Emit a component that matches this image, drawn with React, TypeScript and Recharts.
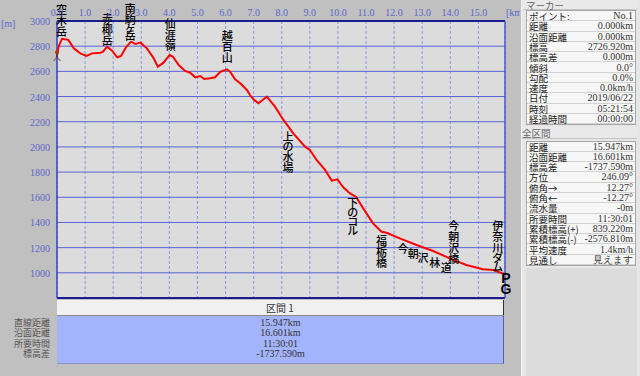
import { LineChart, Line, XAxis, YAxis, CartesianGrid, ReferenceLine, ReferenceDot } from "recharts";

// elevation profile (km along track, metres)
const distKm = [
  0, 0.06, 0.18, 0.4, 0.6, 0.83, 1.05, 1.25, 1.55, 1.64, 1.78, 1.96, 2.14, 2.28, 2.47, 2.64, 2.79, 2.97,
  3.2, 3.44, 3.59, 3.79, 4.01, 4.13, 4.33, 4.56, 4.74, 4.92, 5.1, 5.24, 5.45, 5.63, 5.81, 6.05, 6.16,
  6.34, 6.52, 6.76, 6.87, 6.99, 7.17, 7.47, 7.76, 8.06, 8.41, 8.83, 9.0, 9.24, 9.54, 9.78, 9.98, 10.19,
  10.43, 10.64, 10.9, 11.25, 11.55, 11.73, 12.2, 12.8, 13.39, 13.98, 14.57, 15.16, 15.52, 15.947,
];
const elevM = [
  2727, 2800, 2858, 2850, 2783, 2743, 2722, 2743, 2748, 2756, 2796, 2764, 2712, 2722, 2796, 2836, 2817, 2828,
  2783, 2704, 2637, 2669, 2730, 2716, 2650, 2603, 2589, 2553, 2563, 2539, 2545, 2553, 2597, 2616, 2597,
  2537, 2505, 2452, 2412, 2378, 2346, 2399, 2320, 2214, 2108, 2002, 1975, 1896, 1817, 1732, 1743, 1679,
  1631, 1605, 1512, 1393, 1326, 1318, 1274, 1221, 1173, 1115, 1062, 1028, 1022, 989,
];
const xTicks = [0, 1, 2, 3, 4, 5, 6, 7, 8, 9, 10, 11, 12, 13, 14, 15];
const yTicks = [800, 1000, 1200, 1400, 1600, 1800, 2000, 2200, 2400, 2600, 2800, 3000];

// place names, anchored at the first character (km, m)
const placeNames = ["空木岳", "赤椰岳", "南駒ヶ岳", "仙涯嶺", "越百山", "上の水場", "下のコル", "福栃橋", "今", "朝", "沢", "林", "道", "今朝沢橋", "伊奈川ダム", "PG"];
const placeKm = [0.16, 1.79, 2.61, 4.03, 6.06, 8.22, 10.53, 11.55, 12.32, 12.68, 13.03, 13.45, 13.86, 14.12, 15.69, 15.98];
const placeElev = [3095, 3024, 3103, 2984, 2889, 2087, 1562, 1261, 1195, 1155, 1123, 1088, 1044, 1380, 1380, 959];

const markerRows = [
  ["ポイント:", "No.1"], ["距離", "0.000km"], ["沿面距離", "0.000km"], ["標高", "2726.920m"],
  ["標高差", "0.000m"], ["傾斜", "0.0°"], ["勾配", "0.0%"], ["速度", "0.0km/h"],
  ["日付", "2019/06/22"], ["時刻", "05:21:54"], ["経過時間", "00:00:00"],
];
const totalRows = [
  ["距離", "15.947km"], ["沿面距離", "16.601km"], ["標高差", "-1737.590m"], ["方位", "246.09°"],
  ["俯角→", "12.27°"], ["俯角←", "-12.27°"], ["流水量", "-0m"], ["所要時間", "11:30:01"],
  ["累積標高(+)", "839.220m"], ["累積標高(-)", "-2576.810m"], ["平均速度", "1.4km/h"], ["見通し", "見えます"],
];
const sectionLabels = ["直線距離", "沿面距離", "所要時間", "標高差"];
const sectionValues = ["15.947km", "16.601km", "11:30:01", "-1737.590m"];

const JP = "'Noto Sans CJK JP', sans-serif";
const SERIF = "'Liberation Serif', serif";
const AXIS = "#5f66cc";
const ROW = 10.3;

const data = distKm.map((km, i) => ({ km, elev: elevM[i] }));

// glyph height used to stack vertical labels
const glyphH = (ch: string) => (ch === "ヶ" ? 5 : /[A-Z]/.test(ch) ? 11 : /[ぁ-んァ-ン]/.test(ch) ? 9 : 11);

function VLabel({ cx, cy, text }: any) {
  const chars = Array.from(text as string);
  let y = cy;
  return (
    <g>
      {chars.map((ch, i) => {
        if (i > 0) y += (glyphH(chars[i - 1]) + glyphH(ch)) / 2;
        const latin = /[A-Z]/.test(ch);
        return (
          <text key={i} x={cx} y={y} textAnchor="middle" dominantBaseline="central"
            fontSize={latin ? 14 : 11} fontWeight={latin ? 700 : 500} fontFamily={latin ? "'Liberation Sans', sans-serif" : JP} fill="#000">
            {ch}
          </text>
        );
      })}
    </g>
  );
}

function InfoTable({ top, rows }: { top: number; rows: string[][] }) {
  return (
    <div style={{ position: "absolute", left: 526, top, width: 110, height: rows.length * ROW + 2, background: "#f7f7f7", border: "1px solid #a6a6a6", boxSizing: "border-box" }}>
      {rows.map(([k, v], i) => (
        <div key={k + i} style={{ position: "absolute", left: 0, top: i * ROW, width: "100%", height: ROW, borderBottom: "1px solid #d2d2d2", boxSizing: "border-box", lineHeight: `${ROW}px` }}>
          <span style={{ position: "absolute", left: 2, fontSize: 9.5, fontFamily: JP, color: "#222" }}>{k}</span>
          <span style={{ position: "absolute", right: 2, fontSize: 10, fontFamily: SERIF, color: "#333" }}>{v}</span>
        </div>
      ))}
    </div>
  );
}

export default function App() {
  return (
    <div style={{ position: "absolute", left: 0, top: 0, width: 640, height: 376, background: "#c0c0c0", overflow: "hidden" }}>
      <LineChart width={520} height={300} data={data} margin={{ top: 0, right: 15, bottom: 2, left: 0 }} style={{ position: "absolute", left: 0, top: 0 }}>
        <CartesianGrid horizontal={false} stroke="#8c98e8" strokeDasharray="3 2" fill="#dcdcdc" fillOpacity={1} />
        <CartesianGrid vertical={false} stroke="#5664d6" />
        <XAxis dataKey="km" type="number" orientation="top" domain={[0, 15.947]} ticks={xTicks} height={21}
          axisLine={false} tickLine={false} allowDataOverflow
          tick={({ x, payload }: any) => (
            <text x={x} y={16} textAnchor="middle" fontSize={10} fontFamily={SERIF} fill={AXIS}>{Number(payload.value).toFixed(1)}</text>
          )} />
        <YAxis dataKey="elev" type="number" domain={[800, 3000]} ticks={yTicks} width={57}
          axisLine={false} tickLine={false} allowDataOverflow
          tick={({ y, payload }: any) => (
            <text x={50} y={y + 4} textAnchor="end" fontSize={10} fontFamily={SERIF} fill={AXIS}>{payload.value}</text>
          )} />
        <ReferenceLine y={3000} stroke="#1c1c8c" strokeWidth={2} />
        <ReferenceLine y={800} stroke="#1c1c8c" strokeWidth={2} />
        <ReferenceLine x={0} stroke="#3444c4" strokeWidth={1.5} />
        <ReferenceLine x={15.947} stroke="#4a58cc" strokeWidth={1.5} />
        <Line type="linear" dataKey="elev" stroke="#ff0000" strokeWidth={2} dot={false} isAnimationActive={false} />
        <ReferenceDot x={0} y={elevM[0]} r={0} ifOverflow="visible"
          shape={(p: any) => (
            <g>
              <circle cx={p.cx} cy={p.cy - 3} r={2} fill="#a03a20" />
              <text x={p.cx} y={p.cy + 5} textAnchor="middle" fontSize={8} fontFamily={JP} fill="#5a2010">人</text>
            </g>
          )} />
        {placeNames.map((name, i) => (
          <ReferenceDot key={name + i} x={placeKm[i]} y={placeElev[i]} r={0} ifOverflow="visible"
            shape={(p: any) => <VLabel cx={p.cx} cy={p.cy} text={name} />} />
        ))}
        <text x={1} y={27} fontSize={10} fontFamily={SERIF} fill={AXIS}>[m]</text>
        <text x={506} y={16} fontSize={10} fontFamily={SERIF} fill={AXIS}>[km]</text>
      </LineChart>

      {/* section table under the plot */}
      <div style={{ position: "absolute", left: 57, top: 300, width: 447, height: 15, background: "#f0f0f0", borderRight: "1px solid #303030", boxSizing: "border-box", textAlign: "center", lineHeight: "15px", fontSize: 10, fontFamily: JP, color: "#333" }}>
        区間 1
      </div>
      <div style={{ position: "absolute", left: 57, top: 315, width: 447, height: 1, background: "#8a8a8a" }} />
      <div style={{ position: "absolute", left: 57, top: 316, width: 447, height: 48, background: "#a4b4fc", borderRight: "1px solid #56609a", borderBottom: "1px solid #8a94c0", boxSizing: "border-box" }} />
      {sectionLabels.map((l, i) => (
        <div key={l} style={{ position: "absolute", left: 0, width: 50, top: 318 + i * 10.3, height: 10, lineHeight: "10px", textAlign: "right", fontSize: 9, fontFamily: JP, color: "#555" }}>{l}</div>
      ))}
      {sectionValues.map((v, i) => (
        <div key={v} style={{ position: "absolute", left: 57, width: 447, top: 318 + i * 10.3, height: 10, lineHeight: "10px", textAlign: "center", fontSize: 10, fontFamily: SERIF, color: "#333" }}>{v}</div>
      ))}

      {/* info panel on the right */}
      <div style={{ position: "absolute", left: 521, top: 0, width: 119, height: 376, background: "#e6e6e6", borderLeft: "1px solid #f4f4f4", boxSizing: "border-box" }} />
      <div style={{ position: "absolute", left: 526, top: 268, width: 111, height: 108, background: "#dcdcdc" }} />
      <div style={{ position: "absolute", left: 523, top: 0, width: 114, height: 10, lineHeight: "10px", background: "#e9e9e9", borderBottom: "1px solid #c4c4c4", fontSize: 9.5, fontFamily: JP, color: "#666", paddingLeft: 3, boxSizing: "border-box" }}>マーカー</div>
      <InfoTable top={10} rows={markerRows} />
      <div style={{ position: "absolute", left: 522, top: 127, width: 115, height: 12, lineHeight: "12px", background: "#e9e9e9", borderBottom: "1px solid #c4c4c4", fontSize: 9.5, fontFamily: JP, color: "#666", boxSizing: "border-box" }}>全区間</div>
      <InfoTable top={140.5} rows={totalRows} />
    </div>
  );
}
